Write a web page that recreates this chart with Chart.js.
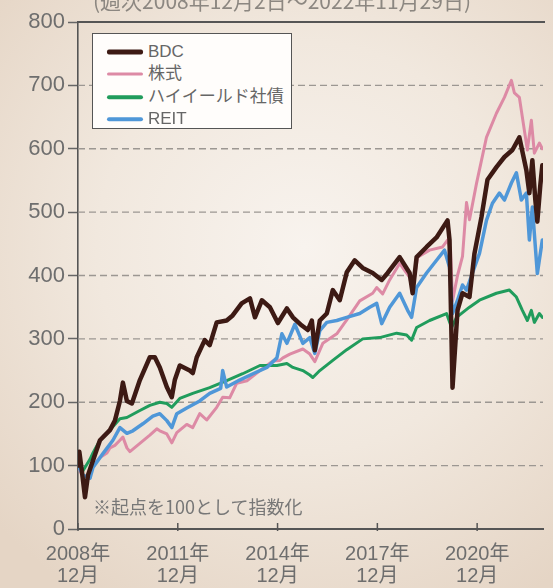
<!DOCTYPE html>
<html><head><meta charset="utf-8">
<script src="https://cdn.jsdelivr.net/npm/chart.js@4"></script>
<style>
html,body{margin:0;padding:0;}
body{width:553px;height:588px;overflow:hidden;position:relative;
background:radial-gradient(ellipse 75% 70% at 55% 42%, #f8f3ee 0%, #f1e8de 50%, #e5d5c5 100%);}
#wrap{position:absolute;left:0;top:0;width:553px;height:588px;}
#title{position:absolute;left:93px;top:-12px;font-family:'Noto Sans CJK JP',sans-serif;font-size:21px;line-height:24px;color:#8c8781;white-space:nowrap;}
#legend{position:absolute;left:92px;top:33px;width:198px;height:94px;border:1.5px solid #555;background:#fffdfb;}
.row{position:absolute;left:0;width:100%;height:22px;}
.sw{position:absolute;left:14px;width:36px;top:50%;transform:translateY(-50%);border-radius:2px;}
.lab{position:absolute;left:55px;top:0;line-height:22px;font-family:'Liberation Sans','Noto Sans CJK JP',sans-serif;font-size:17px;color:#666;white-space:nowrap;}
#note{position:absolute;left:93px;top:494px;font-family:'Noto Sans CJK JP',sans-serif;font-size:18px;line-height:24px;color:#777;white-space:nowrap;}
</style></head>
<body>
<div id="wrap"><canvas id="c" width="553" height="588"></canvas></div>
<div id="title">(週次2008年12月2日～2022年11月29日)</div>
<div id="legend">
  <div class="row" style="top:7px"><div class="sw" style="height:5px;background:#3d1a14"></div><div class="lab">BDC</div></div>
  <div class="row" style="top:29px"><div class="sw" style="height:3px;background:#dd8aa5"></div><div class="lab">株式</div></div>
  <div class="row" style="top:52px"><div class="sw" style="height:3.5px;background:#209c5c"></div><div class="lab">ハイイールド社債</div></div>
  <div class="row" style="top:74px"><div class="sw" style="height:3.5px;background:#4f97d8"></div><div class="lab">REIT</div></div>
</div>
<div id="note">※起点を100として指数化</div>
<script>
// ---- axis ticks ----
const yTicks = [0,100,200,300,400,500,600,700,800];
const tickYears = [2008.92, 2011.92, 2014.92, 2017.92, 2020.92];
const tickLabels = [['2008年','12月'],['2011年','12月'],['2014年','12月'],['2017年','12月'],['2020年','12月']];

// ---- series (x = decimal year, y = index, start = 100) ----
const bdcYears = [2008.92,2008.96,2009.04,2009.13,2009.22,2009.37,2009.58,2009.88,2010.03,2010.18,2010.27,2010.39,2010.54,2010.78,2011.08,2011.23,2011.38,2011.59,2011.74,2011.83,2011.98,2012.28,2012.37,2012.49,2012.73,2012.88,2013.09,2013.39,2013.57,2013.84,2014.09,2014.24,2014.45,2014.69,2014.93,2015.20,2015.38,2015.65,2015.83,2015.95,2016.04,2016.19,2016.40,2016.58,2016.79,2017.00,2017.24,2017.48,2017.78,2018.05,2018.23,2018.59,2018.89,2018.98,2019.10,2019.40,2019.70,2020.03,2020.09,2020.18,2020.33,2020.48,2020.69,2020.84,2021.05,2021.23,2021.50,2021.74,2021.98,2022.19,2022.40,2022.49,2022.58,2022.67,2022.73,2022.82,2022.88];
const bdcValues = [100,122,90,50,85,108,140,156,171,202,231,202,198,235,271,271,255,224,208,235,258,250,246,271,298,290,326,329,337,356,364,334,361,350,325,348,334,321,314,329,282,329,340,377,361,405,424,412,404,393,404,429,404,372,429,445,460,487,456,223,345,372,366,435,492,551,571,587,598,618,566,530,582,519,485,543,574];

const stockYears = [2008.92,2008.98,2009.13,2009.28,2009.37,2009.58,2009.79,2009.88,2010.03,2010.18,2010.27,2010.39,2010.48,2010.78,2011.08,2011.29,2011.38,2011.59,2011.74,2011.89,2012.19,2012.37,2012.58,2012.79,2013.09,2013.27,2013.48,2013.69,2014.00,2014.39,2014.78,2014.99,2015.08,2015.29,2015.68,2015.89,2016.04,2016.28,2016.70,2017.00,2017.39,2017.78,2017.90,2018.08,2018.29,2018.59,2018.89,2018.98,2019.13,2019.49,2019.88,2020.03,2020.12,2020.18,2020.33,2020.48,2020.60,2020.69,2020.90,2021.20,2021.50,2021.74,2021.95,2022.04,2022.19,2022.34,2022.43,2022.55,2022.64,2022.79,2022.88];
const stockValues = [100,92,72,88,100,113,120,128,132,140,145,128,122,135,148,158,155,150,136,152,165,160,182,172,192,208,207,230,234,250,265,266,270,276,284,276,264,293,308,330,360,372,381,371,393,419,397,377,429,440,445,456,440,360,400,430,515,488,545,618,656,681,708,688,681,629,598,645,593,609,600];

const hyYears = [2008.92,2008.98,2009.07,2009.28,2009.37,2009.58,2009.88,2010.18,2010.39,2010.78,2011.08,2011.38,2011.59,2011.74,2011.98,2012.37,2012.88,2013.39,2013.87,2014.39,2014.90,2015.20,2015.38,2015.68,2015.89,2015.98,2016.19,2016.58,2017.00,2017.48,2017.99,2018.50,2018.80,2018.95,2019.10,2019.49,2020.00,2020.15,2020.30,2020.69,2020.99,2021.50,2021.89,2022.10,2022.28,2022.43,2022.55,2022.64,2022.79,2022.88];
const hyValues = [100,97,92,110,120,140,156,174,176,187,195,200,198,192,206,214,223,234,245,258,258,261,255,250,243,239,250,266,283,300,302,309,306,298,318,329,340,318,334,350,361,372,377,366,345,329,345,326,340,334];

const reitYears = [2008.92,2009.07,2009.28,2009.37,2009.67,2009.97,2010.18,2010.39,2010.57,2010.87,2011.17,2011.38,2011.59,2011.74,2011.89,2012.19,2012.58,2012.88,2013.21,2013.27,2013.39,2013.78,2014.18,2014.60,2014.90,2015.05,2015.20,2015.44,2015.68,2015.89,2016.04,2016.19,2016.40,2016.70,2017.00,2017.39,2017.69,2017.90,2018.05,2018.29,2018.59,2018.83,2018.95,2019.10,2019.40,2019.70,2019.94,2020.09,2020.18,2020.33,2020.48,2020.60,2020.78,2020.99,2021.20,2021.38,2021.59,2021.74,2021.95,2022.10,2022.25,2022.40,2022.49,2022.58,2022.73,2022.88];
const reitValues = [100,85,80,97,119,140,160,151,155,166,178,182,171,160,182,191,202,214,222,250,224,235,245,255,270,308,293,323,293,302,277,313,326,329,334,340,350,356,324,350,372,345,334,381,404,424,440,413,340,361,385,377,404,435,487,514,530,519,546,562,519,530,456,508,403,456];

function pts(xs, ys){ const n=Math.min(xs.length, ys.length); const out=[]; for(let i=0;i<n;i++) out.push({x:xs[i], y:ys[i]}); return out; }

const gridPlugin = {
  id:'customGrid',
  beforeDatasetsDraw(chart){
    const {ctx, chartArea:a, scales:{x,y}} = chart;
    ctx.save();
    ctx.strokeStyle='#9c9792'; ctx.lineWidth=1.4; ctx.setLineDash([7,4]);
    yTicks.forEach(v=>{
      if(v===0||v===800) return;
      const py=y.getPixelForValue(v);
      ctx.beginPath(); ctx.moveTo(a.left, py); ctx.lineTo(a.right, py); ctx.stroke();
    });
    ctx.setLineDash([]);
    ctx.strokeStyle='#555'; ctx.lineWidth=1.8;
    const top=y.getPixelForValue(800);
    ctx.beginPath(); ctx.moveTo(a.left, top); ctx.lineTo(a.right+2, top); ctx.stroke();
    ctx.lineWidth=1.5;
    tickYears.forEach(v=>{
      const px=x.getPixelForValue(v);
      ctx.beginPath(); ctx.moveTo(px, a.bottom+2); ctx.lineTo(px, a.bottom-6); ctx.stroke();
    });
    ctx.restore();
  }
};

new Chart(document.getElementById('c'), {
  type:'line',
  data:{ datasets:[
    {label:'BDC', data:pts(bdcYears,bdcValues), borderColor:'#3d1a14', borderWidth:4.5, order:0},
    {label:'REIT', data:pts(reitYears,reitValues), borderColor:'#4f97d8', borderWidth:3.5, order:1},
    {label:'ハイイールド社債', data:pts(hyYears,hyValues), borderColor:'#209c5c', borderWidth:3, order:2},
    {label:'株式', data:pts(stockYears,stockValues), borderColor:'#dd8aa5', borderWidth:3, order:3}
  ]},
  options:{
    responsive:false, animation:false,
    layout:{padding:{top:22,right:10,left:0,bottom:0}},
    elements:{point:{radius:0}, line:{tension:0, borderJoinStyle:'round', borderCapStyle:'round'}},
    plugins:{legend:{display:false}, tooltip:{enabled:false}},
    scales:{
      x:{type:'linear', min:2008.92, max:2022.9,
        afterBuildTicks:s=>{ s.ticks = tickYears.map(v=>({value:v})); },
        afterFit:s=>{ s.height=59; },
        grid:{display:true, drawOnChartArea:false, drawTicks:false},
        border:{display:true, color:'#555', width:2},
        ticks:{autoSkip:false, maxRotation:0, padding:14, color:'#6e6e6e',
          font:{family:"'Liberation Sans','Noto Sans CJK JP',sans-serif", size:20, lineHeight:1.1},
          callback:(v,i)=>tickLabels[i]}
      },
      y:{min:0, max:800,
        afterBuildTicks:s=>{ s.ticks = yTicks.map(v=>({value:v})); },
        afterFit:s=>{ s.width=78; },
        grid:{display:true, drawOnChartArea:false, drawTicks:true, tickLength:10, tickColor:'#666', tickWidth:1.5},
        border:{display:true, color:'#555', width:1.6},
        ticks:{padding:3, color:'#6e6e6e', font:{family:"'Liberation Sans',sans-serif", size:22}}
      }
    }
  },
  plugins:[gridPlugin]
});
</script>
</body></html>
